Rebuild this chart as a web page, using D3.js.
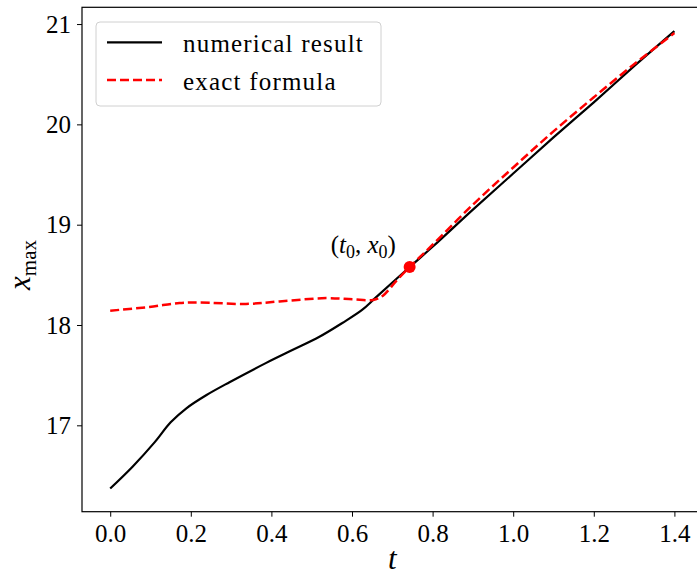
<!DOCTYPE html>
<html>
<head>
<meta charset="utf-8">
<script src="https://cdn.jsdelivr.net/npm/d3@7"></script>
<style>
  body { margin: 0; background: #fff; }
</style>
</head>
<body>
<div id="chart"></div>
<script>
// values
const tNumeric = [0, 0.056, 0.11, 0.15, 0.189, 0.238, 0.296, 0.386, 0.452, 0.518, 0.576, 0.625, 0.658, 0.743, 0.8, 0.9, 1.0, 1.1, 1.2, 1.3, 1.4];
const xNumeric = [16.37, 16.59, 16.83, 17.03, 17.17, 17.30, 17.43, 17.62, 17.75, 17.88, 18.02, 18.15, 18.27, 18.578, 18.78, 19.15, 19.51, 19.87, 20.22, 20.58, 20.93];

const tExact = [0, 0.097, 0.172, 0.222, 0.337, 0.42, 0.536, 0.602, 0.652, 0.676, 0.71, 0.743, 0.8, 0.9, 1.0, 1.1, 1.2, 1.3, 1.4];
const xExact = [18.143, 18.18, 18.22, 18.225, 18.21, 18.235, 18.268, 18.256, 18.25, 18.29, 18.44, 18.578, 18.80, 19.20, 19.57, 19.93, 20.27, 20.60, 20.91];

const point0 = [0.743, 18.578];

const xTicks = [0, 0.2, 0.4, 0.6, 0.8, 1.0, 1.2, 1.4];
const yTicks = [17, 18, 19, 20, 21];

const seriesNames = ["numerical result", "exact formula"];
const seriesColors = ["#000000", "#ff0000"];

const serif = '"Liberation Serif", "DejaVu Serif", "Times New Roman", serif';

document.addEventListener('DOMContentLoaded', function() {
    const width = 697, height = 577;
    const plot = { left: 82, right: 702.6, top: 7.3, bottom: 511.7 };

    const svg = d3.select("#chart").append("svg")
        .attr("width", width)
        .attr("height", height)
        .style("font-family", serif);

    const x = d3.scaleLinear().domain([-0.07, 1.47]).range([plot.left, plot.right]);
    const y = d3.scaleLinear().domain([16.139, 21.167]).range([plot.bottom, plot.top]);

    // clip lines to the plotting area
    svg.append("defs").append("clipPath").attr("id", "plotclip")
        .append("rect")
        .attr("x", plot.left).attr("y", plot.top)
        .attr("width", plot.right - plot.left).attr("height", plot.bottom - plot.top);

    // axes
    const xAxis = svg.append("g")
        .attr("transform", `translate(0,${plot.bottom})`)
        .call(d3.axisBottom(x).tickValues(xTicks).tickFormat(d3.format(".1f")).tickSizeOuter(0).tickSize(5).tickPadding(6));
    const yAxis = svg.append("g")
        .attr("transform", `translate(${plot.left},0)`)
        .call(d3.axisLeft(y).tickValues(yTicks).tickFormat(d3.format("d")).tickSizeOuter(0).tickSize(5).tickPadding(6));

    [xAxis, yAxis].forEach(function(g) {
        g.attr("font-family", null).attr("font-size", null);
        g.select(".domain").remove();
        g.selectAll(".tick line").attr("stroke", "#000").attr("stroke-width", 1);
        g.selectAll(".tick text")
            .style("font-family", serif)
            .style("font-size", "25px")
            .attr("fill", "#000");
    });
    xAxis.selectAll(".tick text").attr("dy", "0.78em");

    // frame
    svg.append("rect")
        .attr("x", plot.left).attr("y", plot.top)
        .attr("width", plot.right - plot.left).attr("height", plot.bottom - plot.top)
        .attr("fill", "none").attr("stroke", "#000").attr("stroke-width", 1.2);

    const line = d3.line()
        .x(d => x(d[0]))
        .y(d => y(d[1]))
        .curve(d3.curveCatmullRom.alpha(0.5));

    const numeric = tNumeric.map((t, i) => [t, xNumeric[i]]);
    const exact = tExact.map((t, i) => [t, xExact[i]]);

    const lines = svg.append("g").attr("clip-path", "url(#plotclip)");
    lines.append("path")
        .datum(numeric)
        .attr("d", line)
        .attr("fill", "none")
        .attr("stroke", seriesColors[0])
        .attr("stroke-width", 2.2);

    lines.append("path")
        .datum(exact)
        .attr("d", line)
        .attr("fill", "none")
        .attr("stroke", seriesColors[1])
        .attr("stroke-width", 2.5)
        .attr("stroke-dasharray", "9,4");

    // the (t0, x0) point
    svg.append("circle")
        .attr("cx", x(point0[0]))
        .attr("cy", y(point0[1]))
        .attr("r", 6)
        .attr("fill", "#ff0000");

    const ann = svg.append("text")
        .attr("x", x(point0[0]) - 79)
        .attr("y", y(point0[1]) - 14)
        .style("font-family", serif)
        .style("font-size", "25px");
    ann.append("tspan").text("(");
    ann.append("tspan").attr("font-style", "italic").text("t");
    ann.append("tspan").attr("dy", 5).style("font-size", "18px").text("0");
    ann.append("tspan").attr("dy", -5).text(", ");
    ann.append("tspan").attr("font-style", "italic").text("x");
    ann.append("tspan").attr("dy", 5).style("font-size", "18px").text("0");
    ann.append("tspan").attr("dy", -5).text(")");

    // axis labels
    svg.append("text")
        .attr("x", x(0.7))
        .attr("y", 569)
        .attr("text-anchor", "middle")
        .attr("font-style", "italic")
        .style("font-family", serif)
        .style("font-size", "31px")
        .text("t");

    const ylab = svg.append("text")
        .attr("transform", "translate(30,265) rotate(-90)")
        .attr("text-anchor", "middle")
        .style("font-family", serif)
        .style("font-size", "31px");
    ylab.append("tspan").attr("font-style", "italic").text("x");
    ylab.append("tspan").attr("dy", 6).style("font-size", "21px").text("max");

    // legend
    const legend = svg.append("g");
    legend.append("rect")
        .attr("x", 96).attr("y", 22)
        .attr("width", 285).attr("height", 84)
        .attr("rx", 4).attr("ry", 4)
        .attr("fill", "#fff").attr("fill-opacity", 0.8)
        .attr("stroke", "#d0d0d0").attr("stroke-width", 1);

    seriesNames.forEach(function(name, i) {
        const ly = 42.3 + i * 37.7;
        legend.append("line")
            .attr("x1", 107).attr("x2", 162)
            .attr("y1", ly).attr("y2", ly)
            .attr("stroke", seriesColors[i])
            .attr("stroke-width", i === 0 ? 2.2 : 2.5)
            .attr("stroke-dasharray", i === 0 ? null : "9,4");
        legend.append("text")
            .attr("x", 183)
            .attr("y", ly + 9.5)
            .style("font-family", serif)
            .style("font-size", "25px")
            .style("letter-spacing", "1.2px")
            .text(name);
    });
});
</script>
</body>
</html>
